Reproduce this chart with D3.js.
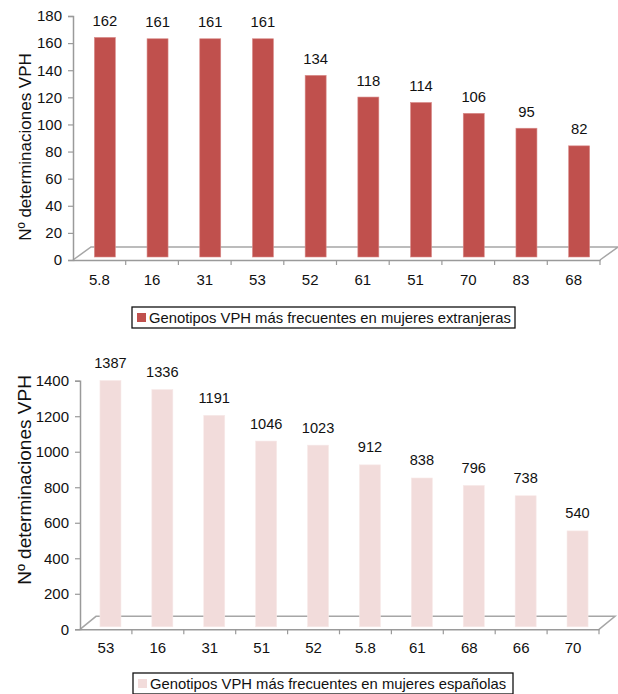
<!DOCTYPE html>
<html>
<head>
<meta charset="utf-8">
<script src="https://cdn.jsdelivr.net/npm/d3@7"></script>
<style>
  body { margin: 0; background: #fff; }
  svg { display: block; font-family: "Liberation Sans", Arial, Helvetica, sans-serif; }
</style>
</head>
<body>
<svg id="chart" width="618" height="694"></svg>
<script>
// datos
var genotiposExtranjeras = ["5.8", "16", "31", "53", "52", "61", "51", "70", "83", "68"];
var valoresExtranjeras = [162, 161, 161, 161, 134, 118, 114, 106, 95, 82];
var ticksExtranjeras = [0, 20, 40, 60, 80, 100, 120, 140, 160, 180];

var genotiposEspanolas = ["53", "16", "31", "51", "52", "5.8", "61", "68", "66", "70"];
var valoresEspanolas = [1387, 1336, 1191, 1046, 1023, 912, 838, 796, 738, 540];
var ticksEspanolas = [0, 200, 400, 600, 800, 1000, 1200, 1400];

var ejeY = "Nº determinaciones VPH";
var leyendaExtranjeras = "Genotipos VPH más frecuentes en mujeres extranjeras";
var leyendaEspanolas = "Genotipos VPH más frecuentes en mujeres españolas";

var svg = d3.select("#chart");

function dibujar(cats, vals, ticks, leyenda, o) {
  var g = svg.append("g");

  var x = d3.scaleBand().domain(cats).range([o.x0, o.x1]);
  var y = d3.scaleLinear().domain([0, ticks[ticks.length - 1]]).range([o.y0, o.y1]);

  // suelo 3D
  var dx = o.dx, dy = o.dy;
  g.append("path")
    .attr("d", "M" + o.x0 + "," + o.y0 + "L" + (o.x0 + dx) + "," + (o.y0 + dy) +
               "L" + (o.x1 + dx) + "," + (o.y0 + dy) + "L" + o.x1 + "," + o.y0)
    .attr("fill", "none")
    .attr("stroke", "#a6a6a6")
    .attr("stroke-width", 1.5);

  // barras
  g.selectAll(".bar")
    .data(vals)
    .enter()
    .append("rect")
    .attr("class", "bar")
    .attr("x", function(d, i) { return x(cats[i]) + x.bandwidth() / 2 + o.shift - o.bw / 2; })
    .attr("y", function(d) { return y(d) - o.lift; })
    .attr("width", o.bw)
    .attr("height", function(d) { return y(0) - y(d); })
    .attr("fill", o.color)
    .attr("stroke", o.edge)
    .attr("stroke-width", 0.6);

  // etiquetas de valores
  g.selectAll(".val")
    .data(vals)
    .enter()
    .append("text")
    .attr("x", function(d, i) { return x(cats[i]) + x.bandwidth() / 2 + o.shift; })
    .attr("y", function(d) { return y(d) - o.lift - o.gap; })
    .attr("text-anchor", "middle")
    .style("font-size", o.valSize + "px")
    .style("fill", "#111")
    .text(function(d) { return d; });

  // eje y
  var ay = g.append("g")
    .attr("transform", "translate(" + o.x0 + ",0)")
    .call(d3.axisLeft(y).tickValues(ticks).tickSize(5).tickPadding(6).tickFormat(d3.format("d")));
  ay.select(".domain").attr("stroke", "#9a9a9a").attr("stroke-width", 1.5);
  ay.selectAll(".tick line").attr("stroke", "#9a9a9a").attr("stroke-width", 1.2);
  ay.selectAll(".tick text").style("font-size", o.tickSize + "px").style("fill", "#111")
    .style("font-family", "Liberation Sans, Arial, sans-serif");

  // eje x
  var ax = g.append("g")
    .attr("transform", "translate(0," + o.y0 + ")")
    .call(d3.axisBottom(x).tickSize(0).tickPadding(o.xPad));
  ax.select(".domain").attr("stroke", "#9a9a9a").attr("stroke-width", 1.5);
  ax.selectAll(".tick text").style("font-size", o.tickSize + "px").style("fill", "#111")
    .style("font-family", "Liberation Sans, Arial, sans-serif");
  // separadores entre categorías
  g.selectAll(".sep")
    .data(cats.slice(1).concat(["fin"]))
    .enter()
    .append("line")
    .attr("x1", function(d) { return d === "fin" ? o.x1 : x(d); })
    .attr("x2", function(d) { return d === "fin" ? o.x1 : x(d); })
    .attr("y1", o.y0)
    .attr("y2", o.y0 + 5)
    .attr("stroke", "#9a9a9a")
    .attr("stroke-width", 1.2);

  // título eje y
  g.append("text")
    .attr("transform", "translate(" + o.titleX + "," + o.titleY + ") rotate(-90)")
    .attr("text-anchor", "middle")
    .style("font-size", o.titleSize + "px")
    .style("fill", "#111")
    .text(ejeY);

  // leyenda
  var lg = g.append("g").attr("transform", "translate(" + o.legX + "," + o.legY + ")");
  lg.append("rect")
    .attr("width", o.legW).attr("height", 21)
    .attr("fill", "#fff").attr("stroke", "#111").attr("stroke-width", 1.3);
  lg.append("rect")
    .attr("x", 5).attr("y", 6).attr("width", 9).attr("height", 9)
    .attr("fill", o.color);
  lg.append("text")
    .attr("x", 17).attr("y", 15.5)
    .style("font-size", o.legSize + "px")
    .style("fill", "#111")
    .text(leyenda);
}

dibujar(genotiposExtranjeras, valoresExtranjeras, ticksExtranjeras, leyendaExtranjeras, {
  x0: 73, x1: 600, y0: 260, y1: 16, dx: 18, dy: -13,
  bw: 21, shift: 5.5, lift: 3, gap: 11.5,
  color: "#c0504d", edge: "#d98d8b",
  valSize: 14.8, tickSize: 15, xPad: 14,
  titleX: 31, titleY: 147, titleSize: 17,
  legX: 132, legY: 307, legW: 383, legSize: 14.8
});

dibujar(genotiposEspanolas, valoresEspanolas, ticksEspanolas, leyendaEspanolas, {
  x0: 80, x1: 599, y0: 629.3, y1: 380.7, dx: 16, dy: -13,
  bw: 21, shift: 4.5, lift: 2.5, gap: 12.5,
  color: "#f2dcdb", edge: "#f7e9e8",
  valSize: 14.6, tickSize: 15, xPad: 13,
  titleX: 31, titleY: 480, titleSize: 19,
  legX: 133, legY: 673, legW: 380, legSize: 14.8
});
</script>
</body>
</html>
